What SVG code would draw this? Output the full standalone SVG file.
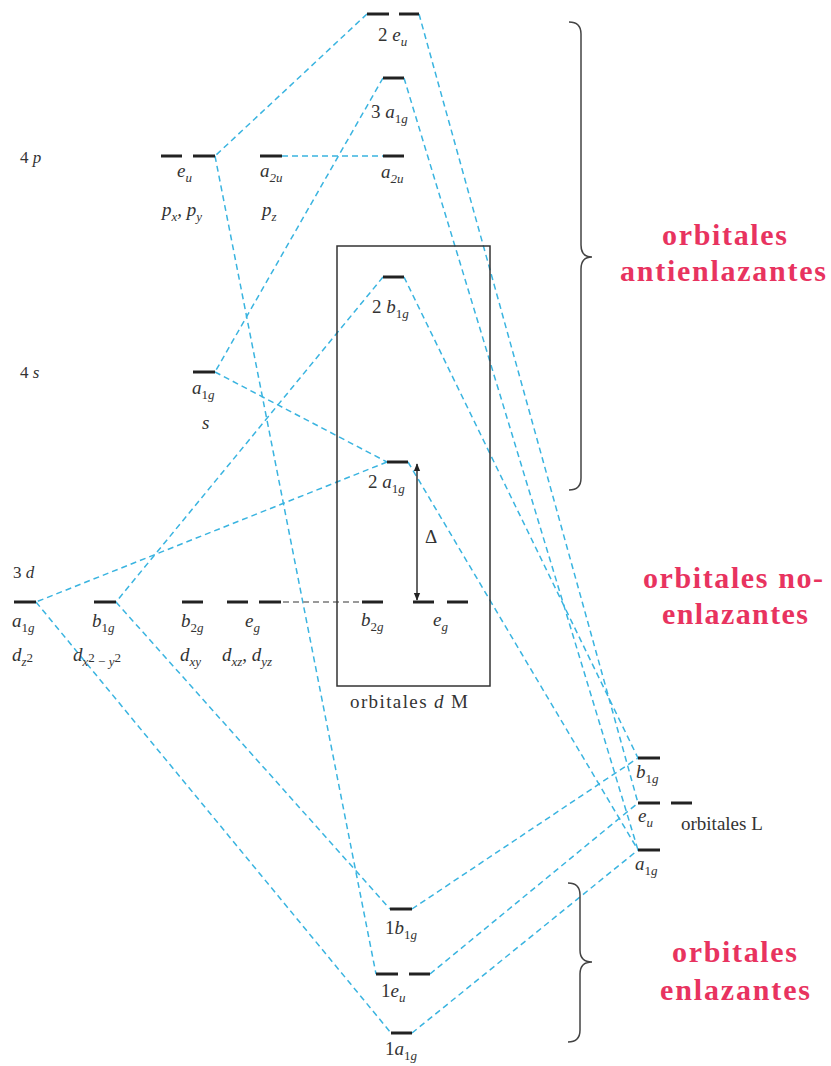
<svg xmlns="http://www.w3.org/2000/svg" width="831" height="1066" viewBox="0 0 831 1066">
<style>
.lv{stroke:#222;stroke-width:3;fill:none}
.c{stroke:#3ab4e0;stroke-width:1.5;stroke-dasharray:6 4;fill:none}
.g{stroke:#999;stroke-width:2;stroke-dasharray:6 4;fill:none}
.t{font-family:"Liberation Serif","Times New Roman",serif;font-size:19px;fill:#333}
.sm{font-size:17px}
.i{font-style:italic}
.s{font-size:13px}
.r{font-family:"Liberation Serif","Times New Roman",serif;font-size:30px;font-weight:bold;fill:#e8335f}
.br{stroke:#444;stroke-width:1.5;fill:none}
</style>
<defs>
<marker id="ah" viewBox="0 0 10 10" refX="9" refY="5" markerWidth="8" markerHeight="10" markerUnits="userSpaceOnUse" orient="auto-start-reverse">
<path d="M0,1 L10,5 L0,9 Z" fill="#222"/>
</marker>
</defs>
<rect width="831" height="1066" fill="#fff"/>

<g id="connectors">
<line class="c" x1="367" y1="14" x2="215" y2="156"/>
<line class="c" x1="419" y1="14" x2="638" y2="803"/>
<line class="c" x1="404" y1="78" x2="638" y2="850"/>
<line class="c" x1="383" y1="78" x2="215" y2="372"/>
<line class="c" x1="282" y1="156" x2="383" y2="156"/>
<line class="c" x1="215" y1="156" x2="376" y2="974"/>
<line class="c" x1="215" y1="372" x2="387" y2="462"/>
<line class="c" x1="383" y1="277" x2="116" y2="602"/>
<line class="c" x1="404" y1="277" x2="638" y2="758"/>
<line class="c" x1="387" y1="462" x2="36" y2="602"/>
<line class="c" x1="408" y1="462" x2="638" y2="850"/>
<line class="c" x1="36" y1="602" x2="391" y2="1033"/>
<line class="c" x1="116" y1="602" x2="390" y2="909"/>
<line class="c" x1="412" y1="909" x2="638" y2="758"/>
<line class="c" x1="430" y1="974" x2="638" y2="803"/>
<line class="c" x1="412" y1="1033" x2="638" y2="850"/>
<line class="g" x1="283" y1="602" x2="362" y2="602"/>
<line x1="417" y1="464" x2="417" y2="600" stroke="#333" stroke-width="1.5" marker-start="url(#ah)" marker-end="url(#ah)"/>
</g>

<g id="box">
<rect x="337" y="246" width="153" height="440" fill="none" stroke="#333" stroke-width="1.5"/>
<text class="t" x="350" y="708" textLength="118" lengthAdjust="spacing">orbitales <tspan class="i">d</tspan> M</text>
</g>

<g id="braces">
<path class="br" d="M569,22 Q581,22 581,34 L581,245 Q581,257 592,257 Q581,257 581,269 L581,478 Q581,490 569,490"/>
<path class="br" d="M568,883 Q580,883 580,895 L580,950 Q580,962 592,962 Q580,962 580,974 L580,1030 Q580,1042 568,1042"/>
</g>

<g id="mo-2eu">
<line class="lv" x1="367" y1="14" x2="389" y2="14"/>
<line class="lv" x1="399" y1="14" x2="419" y2="14"/>
<text class="t" x="378" y="41">2 <tspan class="i">e</tspan><tspan class="s i" dy="5">u</tspan></text>
</g>
<g id="mo-3a1g">
<line class="lv" x1="383" y1="78" x2="404" y2="78"/>
<text class="t" x="371" y="118">3 <tspan class="i">a</tspan><tspan class="s" dy="5">1</tspan><tspan class="s i">g</tspan></text>
</g>
<g id="mo-a2u">
<line class="lv" x1="383" y1="156" x2="404" y2="156"/>
<text class="t" x="381" y="178"><tspan class="i">a</tspan><tspan class="s i" dy="5">2u</tspan></text>
</g>
<g id="mo-2b1g">
<line class="lv" x1="383" y1="277" x2="404" y2="277"/>
<text class="t" x="372" y="313">2 <tspan class="i">b</tspan><tspan class="s" dy="5">1</tspan><tspan class="s i">g</tspan></text>
</g>
<g id="mo-2a1g">
<line class="lv" x1="387" y1="462" x2="408" y2="462"/>
<text class="t" x="368" y="488">2 <tspan class="i">a</tspan><tspan class="s" dy="5">1</tspan><tspan class="s i">g</tspan></text>
<text class="t" x="425" y="543">Δ</text>
</g>
<g id="mo-b2g">
<line class="lv" x1="362" y1="602" x2="383" y2="602"/>
<text class="t" x="361" y="626"><tspan class="i">b</tspan><tspan class="s" dy="5">2</tspan><tspan class="s i">g</tspan></text>
</g>
<g id="mo-eg">
<line class="lv" x1="413" y1="602" x2="434" y2="602"/>
<line class="lv" x1="447" y1="602" x2="468" y2="602"/>
<text class="t i" x="433" y="626">e<tspan class="s" dy="5">g</tspan></text>
</g>
<g id="mo-1b1g">
<line class="lv" x1="390" y1="909" x2="412" y2="909"/>
<text class="t" x="385" y="934">1<tspan class="i">b</tspan><tspan class="s" dy="5">1</tspan><tspan class="s i">g</tspan></text>
</g>
<g id="mo-1eu">
<line class="lv" x1="376" y1="974" x2="398" y2="974"/>
<line class="lv" x1="409" y1="974" x2="430" y2="974"/>
<text class="t" x="381" y="997">1<tspan class="i">e</tspan><tspan class="s i" dy="5">u</tspan></text>
</g>
<g id="mo-1a1g">
<line class="lv" x1="391" y1="1033" x2="412" y2="1033"/>
<text class="t" x="385" y="1055">1<tspan class="i">a</tspan><tspan class="s" dy="5">1</tspan><tspan class="s i">g</tspan></text>
</g>

<g id="m-4p">
<text class="t sm" x="20" y="163">4 <tspan class="i">p</tspan></text>
<line class="lv" x1="161" y1="156" x2="182" y2="156"/>
<line class="lv" x1="193" y1="156" x2="215" y2="156"/>
<text class="t i" x="177" y="177">e<tspan class="s" dy="5">u</tspan></text>
<text class="t i" x="162" y="216">p<tspan class="s" dy="5">x</tspan><tspan dy="-5">, p</tspan><tspan class="s" dy="5">y</tspan></text>
<line class="lv" x1="260" y1="156" x2="282" y2="156"/>
<text class="t i" x="260" y="177">a<tspan class="s" dy="5">2u</tspan></text>
<text class="t i" x="262" y="216">p<tspan class="s" dy="5">z</tspan></text>
</g>
<g id="m-4s">
<text class="t sm" x="20" y="378">4 <tspan class="i">s</tspan></text>
<line class="lv" x1="193" y1="372" x2="215" y2="372"/>
<text class="t" x="192" y="394"><tspan class="i">a</tspan><tspan class="s" dy="5">1</tspan><tspan class="s i">g</tspan></text>
<text class="t i" x="202" y="429">s</text>
</g>
<g id="m-3d">
<text class="t sm" x="13" y="578">3 <tspan class="i">d</tspan></text>
<line class="lv" x1="14" y1="602" x2="36" y2="602"/>
<text class="t" x="12" y="627"><tspan class="i">a</tspan><tspan class="s" dy="5">1</tspan><tspan class="s i">g</tspan></text>
<text class="t" x="12" y="661"><tspan class="i">d</tspan><tspan class="s i" dy="5">z</tspan><tspan class="s" dy="-4">2</tspan></text>
<line class="lv" x1="94" y1="602" x2="116" y2="602"/>
<text class="t" x="92" y="627"><tspan class="i">b</tspan><tspan class="s" dy="5">1</tspan><tspan class="s i">g</tspan></text>
<text class="t" x="73" y="661"><tspan class="i">d</tspan><tspan class="s i" dy="5">x</tspan><tspan class="s" dy="-4">2</tspan><tspan class="s" dy="4"> − </tspan><tspan class="s i">y</tspan><tspan class="s" dy="-4">2</tspan></text>
<line class="lv" x1="182" y1="602" x2="203" y2="602"/>
<text class="t" x="181" y="627"><tspan class="i">b</tspan><tspan class="s" dy="5">2</tspan><tspan class="s i">g</tspan></text>
<text class="t i" x="180" y="661">d<tspan class="s" dy="5">xy</tspan></text>
<line class="lv" x1="227" y1="602" x2="248" y2="602"/>
<line class="lv" x1="259" y1="602" x2="281" y2="602"/>
<text class="t i" x="245" y="627">e<tspan class="s" dy="5">g</tspan></text>
<text class="t i" x="222" y="661">d<tspan class="s" dy="5">xz</tspan><tspan dy="-5">, d</tspan><tspan class="s" dy="5">yz</tspan></text>
</g>

<g id="ligand">
<line class="lv" x1="638" y1="758" x2="660" y2="758"/>
<text class="t" x="636" y="778"><tspan class="i">b</tspan><tspan class="s" dy="5">1</tspan><tspan class="s i">g</tspan></text>
<line class="lv" x1="638" y1="803" x2="660" y2="803"/>
<line class="lv" x1="671" y1="803" x2="692" y2="803"/>
<text class="t i" x="638" y="822">e<tspan class="s" dy="5">u</tspan></text>
<text class="t" x="681" y="830">orbitales L</text>
<line class="lv" x1="638" y1="850" x2="660" y2="850"/>
<text class="t" x="635" y="870"><tspan class="i">a</tspan><tspan class="s" dy="5">1</tspan><tspan class="s i">g</tspan></text>
</g>

<g id="labels">
<text class="r" x="662" y="245" textLength="125" lengthAdjust="spacing">orbitales</text>
<text class="r" x="620" y="281" textLength="206" lengthAdjust="spacing">antienlazantes</text>
<text class="r" x="643" y="588" textLength="180" lengthAdjust="spacing">orbitales no-</text>
<text class="r" x="662" y="624" textLength="146" lengthAdjust="spacing">enlazantes</text>
<text class="r" x="672" y="962" textLength="125" lengthAdjust="spacing">orbitales</text>
<text class="r" x="660" y="1000" textLength="150" lengthAdjust="spacing">enlazantes</text>
</g>
</svg>
